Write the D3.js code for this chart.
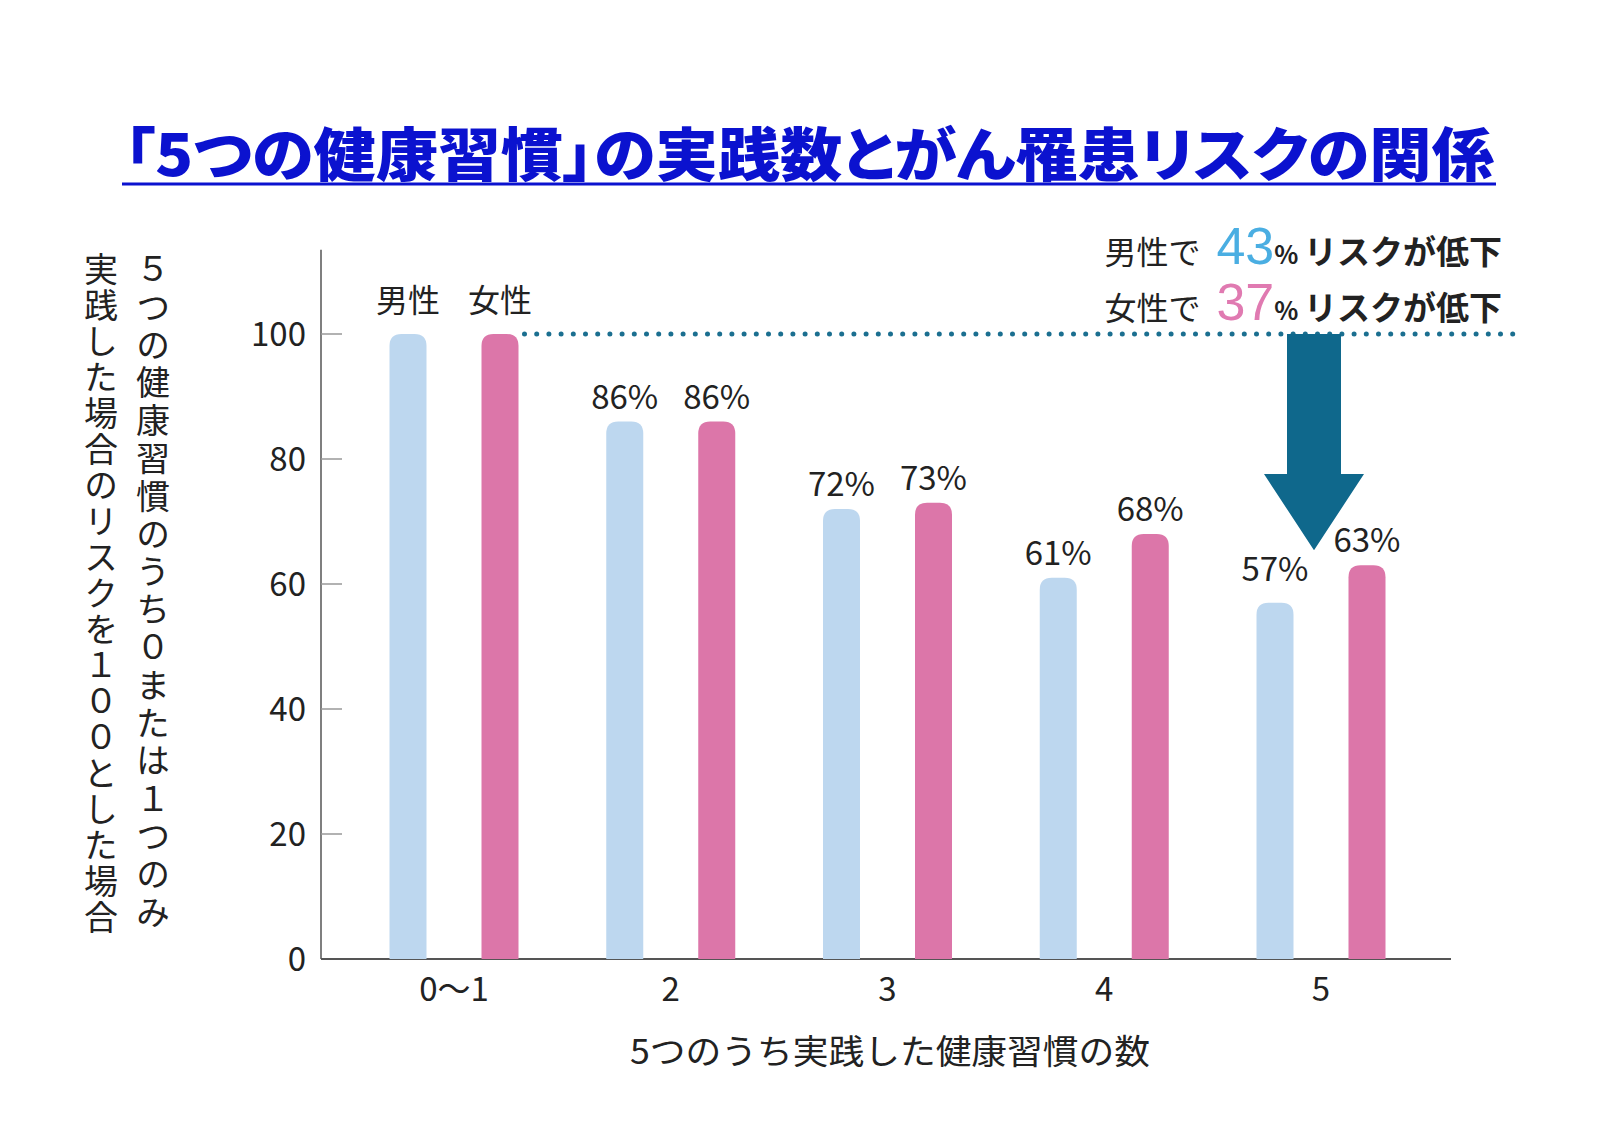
<!DOCTYPE html>
<html>
<head>
<meta charset="utf-8">
<script src="https://d3js.org/d3.v7.min.js"></script>
<style>
  body { margin: 0; background: #fff; }
  text { font-family: "Noto Sans CJK JP", "Noto Sans", sans-serif; }
</style>
</head>
<body>
<script>
// chart data
var categories = ["0〜1", "2", "3", "4", "5"];
var series = ["男性", "女性"];
var maleValues = [100, 86, 72, 61, 57];
var femaleValues = [100, 86, 73, 68, 63];
var maleLabels = ["", "86%", "72%", "61%", "57%"];
var femaleLabels = ["", "86%", "73%", "68%", "63%"];
var yTicks = [0, 20, 40, 60, 80, 100];
var titleText = "「5つの健康習慣」の実践数とがん罹患リスクの関係";
var yTitleLines = ["５つの健康習慣のうち０または１つのみ", "実践した場合のリスクを１００とした場合"];
var xTitle = "5つのうち実践した健康習慣の数";
var maleDrop = "43", femaleDrop = "37";

var W = 1600, H = 1132;
var colors = { "男性": "#bdd7ef", "女性": "#dc76a9" };

var svg = d3.select("body").append("svg")
    .attr("width", W).attr("height", H);

// scales
var y = d3.scaleLinear().domain([0, 100]).range([959, 334]);
var x = d3.scalePoint().domain(categories).range([454, 1321]);
var xSub = d3.scalePoint().domain(series).range([-46, 46]);
var barW = 37, r = 12;

// title
svg.append("text")
    .attr("x", 124).attr("y", 176)
    .attr("textLength", 1370).attr("lengthAdjust", "spacingAndGlyphs")
    .style("font-size", "58px").style("font-weight", "900")
    .style("font-feature-settings", "'palt'")
    .style("fill", "#0b12cf")
    .text(titleText);
svg.append("line")
    .attr("x1", 122).attr("x2", 1496).attr("y1", 184).attr("y2", 184)
    .attr("stroke", "#0b12cf").attr("stroke-width", 3);

// axes
var axisColor = "#555";
svg.append("line")
    .attr("x1", 321).attr("x2", 321).attr("y1", y(0)).attr("y2", y(113.5))
    .attr("stroke", axisColor).attr("stroke-width", 1.5);
svg.append("line")
    .attr("x1", 321).attr("x2", 1451).attr("y1", y(0)).attr("y2", y(0))
    .attr("stroke", axisColor).attr("stroke-width", 2);

var yt = svg.append("g").selectAll("g").data(yTicks).enter().append("g");
yt.filter(function (d) { return d > 0; }).append("line")
    .attr("x1", 321).attr("x2", 342)
    .attr("y1", function (d) { return y(d); }).attr("y2", function (d) { return y(d); })
    .attr("stroke", "#999").attr("stroke-width", 1.5);
yt.append("text")
    .attr("x", 306).attr("y", function (d) { return y(d) + 12; })
    .attr("text-anchor", "end")
    .style("font-size", "33px").style("fill", "#222")
    .text(function (d) { return d; });

svg.append("g").selectAll("text").data(categories).enter().append("text")
    .attr("x", function (d) { return x(d); }).attr("y", 1001)
    .attr("text-anchor", "middle")
    .style("font-size", "33px").style("fill", "#222")
    .text(function (d) { return d; });

svg.append("text")
    .attr("x", 890).attr("y", 1064)
    .attr("text-anchor", "middle")
    .attr("textLength", 520).attr("lengthAdjust", "spacingAndGlyphs")
    .style("font-size", "34px").style("fill", "#222")
    .text(xTitle);

// vertical y title, right column first
svg.append("g").selectAll("text").data(yTitleLines).enter().append("text")
    .attr("x", function (d, i) { return 153 - i * 52; })
    .attr("y", 252)
    .style("writing-mode", "vertical-rl")
    .style("text-orientation", "upright")
    .style("font-size", "34px").style("fill", "#222")
    .style("letter-spacing", function (d, i) { return i === 0 ? "3.8px" : "2px"; })
    .text(function (d) { return d; });

// bars with rounded tops
function barPath(cx, v) {
  var x0 = cx - barW / 2, x1 = cx + barW / 2, top = y(v), bot = y(0);
  return "M" + x0 + "," + bot + "V" + (top + r) +
    "Q" + x0 + "," + top + " " + (x0 + r) + "," + top +
    "H" + (x1 - r) + "Q" + x1 + "," + top + " " + x1 + "," + (top + r) +
    "V" + bot + "Z";
}
var rows = [];
categories.forEach(function (c, i) {
  rows.push({ cat: c, s: "男性", v: maleValues[i], label: maleLabels[i] });
  rows.push({ cat: c, s: "女性", v: femaleValues[i], label: femaleLabels[i] });
});
svg.append("g").selectAll("path").data(rows).enter().append("path")
    .attr("d", function (d) { return barPath(x(d.cat) + xSub(d.s), d.v); })
    .attr("fill", function (d) { return colors[d.s]; });

svg.append("g").selectAll("text").data(rows.filter(function (d) { return d.label; }))
  .enter().append("text")
    .attr("x", function (d) { return x(d.cat) + xSub(d.s); })
    .attr("y", function (d) { return y(d.v) - (d.label === "57%" ? 22 : 13); })
    .attr("text-anchor", "middle")
    .style("font-size", "33px").style("fill", "#222")
    .text(function (d) { return d.label; });

// series names above first group
svg.append("g").selectAll("text").data(series).enter().append("text")
    .attr("x", function (d) { return x(categories[0]) + xSub(d); })
    .attr("y", y(100) - 22)
    .attr("text-anchor", "middle")
    .style("font-size", "32px").style("fill", "#222")
    .text(function (d) { return d; });

// dotted reference line at 100
var lineColor = "#1b6f90";
svg.append("line")
    .attr("x1", x(categories[0]) + xSub("女性") + barW / 2 + 6).attr("x2", 1516)
    .attr("y1", y(100)).attr("y2", y(100))
    .attr("stroke", lineColor).attr("stroke-width", 5)
    .attr("stroke-linecap", "round").attr("stroke-dasharray", "0 12.2");

// down arrow
var ax = x("5") - 7;
var arrow = [
  [ax - 27, y(100)], [ax + 27, y(100)], [ax + 27, y(77.6)], [ax + 50, y(77.6)],
  [ax, y(65.4)], [ax - 50, y(77.6)], [ax - 27, y(77.6)]
];
svg.append("path")
    .attr("d", d3.line()(arrow) + "Z")
    .attr("fill", "#0f688c");

// annotation
var notes = [
  { who: "男性で", num: maleDrop, col: "#4aaee2", yy: 264 },
  { who: "女性で", num: femaleDrop, col: "#e07ab1", yy: 320 }
];
notes.forEach(function (n) {
  var t = svg.append("text").attr("x", 1502).attr("y", n.yy)
      .attr("text-anchor", "end").style("fill", "#222");
  t.append("tspan").style("font-size", "32px").text(n.who);
  t.append("tspan").attr("dx", 16).style("font-size", "52px")
      .style("font-family", "'Liberation Sans', sans-serif")
      .style("fill", n.col).text(n.num);
  t.append("tspan").style("font-size", "25px").style("font-weight", "700").text("% ");
  t.append("tspan").style("font-size", "33px").style("font-weight", "700").text("リスクが低下");
});
</script>
</body>
</html>
